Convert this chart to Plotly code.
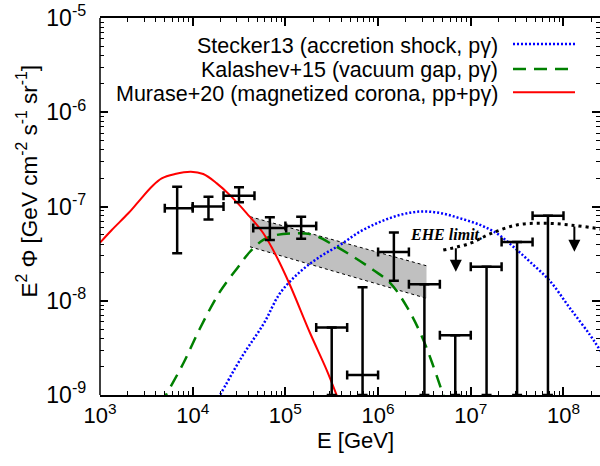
import numpy as np
import plotly.graph_objects as go

# ---------------- data ----------------
# Binned flux points (E in GeV, E^2 Phi in GeV cm^-2 s^-1 sr^-1)
pt_E = [6.8e3, 1.48e4, 3.16e4, 6.8e4, 1.48e5, 3.16e5, 6.8e5, 1.48e6, 3.16e6, 6.8e6, 1.48e7, 3.16e7, 6.8e7]
pt_Elo = [5.0e3, 1.0e4, 2.15e4, 4.5e4, 1.0e5, 2.15e5, 4.64e5, 1.0e6, 2.15e6, 4.64e6, 1.0e7, 2.15e7, 4.64e7]
pt_Ehi = [1.0e4, 2.15e4, 4.64e4, 1.02e5, 2.15e5, 4.64e5, 1.0e6, 2.15e6, 4.64e6, 1.0e7, 2.15e7, 4.64e7, 1.0e8]
pt_F = [9.6e-8, 1.0e-7, 1.30e-7, 5.9e-8, 6.2e-8, 5.2e-9, 1.63e-9, 3.3e-8, 1.5e-8, 4.3e-9, 2.3e-8, 4.2e-8, 8.0e-8]
pt_Fhi = [1.62e-7, 1.27e-7, 1.60e-7, 7.7e-8, 7.8e-8, 5.2e-9, 1.39e-8, 5.3e-8, 1.5e-8, 4.3e-9, 2.3e-8, 4.2e-8, 8.0e-8]
pt_Flo = [3.2e-8, 7.3e-8, 1.11e-7, 4.4e-8, 4.55e-8, 0, 0, 1.63e-8, 0, 0, 0, 0, 0]

# Power-law fit band
band_E = [4.15e4, 3.33e6]
band_up = [7.8e-8, 2.35e-8]
band_lo = [3.74e-8, 1.06e-8]

# Murase+20
red_E = [1.0e3, 1.34e3, 2.02e3, 2.59e3, 3.61e3, 4.63e3, 6.44e3, 9.55e3, 1.30e4, 1.82e4, 2.52e4,
         3.83e4, 5.78e4, 8.05e4, 1.12e5, 1.85e5, 2.79e5, 3.57e5, 3.9e5]
red_F = [4.13e-8, 5.64e-8, 8.47e-8, 1.12e-7, 1.62e-7, 1.99e-7, 2.21e-7, 2.34e-7, 2.21e-7, 1.76e-7, 1.32e-7,
         8.47e-8, 5.20e-8, 2.93e-8, 1.47e-8, 4.52e-9, 1.84e-9, 1.0e-9, 7.9e-10]

# Kalashev+15
grn_E = [4.54e3, 5.15e3, 7.93e3, 1.20e4, 1.97e4, 3.11e4, 4.15e4, 5.78e4, 8.05e4, 1.32e5,
         2.00e5, 3.29e5, 5.41e5, 8.87e5, 1.34e6, 2.04e6, 3.08e6, 5.05e6, 5.5e6]
grn_F = [7.9e-10, 1.0e-9, 2.17e-9, 5.11e-9, 1.25e-8, 2.30e-8, 3.31e-8, 4.42e-8, 4.99e-8, 5.20e-8,
         4.99e-8, 3.91e-8, 2.93e-8, 2.12e-8, 1.56e-8, 8.65e-9, 3.84e-9, 1.0e-9, 7.9e-10]

# Stecker13
blu_E = [1.71e4, 1.97e4, 3.40e4, 5.87e4, 8.75e4, 1.44e5, 2.36e5, 3.88e5, 6.38e5, 1.05e6, 1.72e6, 2.83e6,
         4.66e6, 7.64e6, 1.26e7, 1.90e7, 2.88e7, 4.35e7, 7.14e7, 1.17e8, 1.93e8, 2.48e8, 3.18e8]
blu_F = [7.9e-10, 1.0e-9, 2.55e-9, 5.77e-9, 1.20e-8, 2.03e-8, 2.93e-8, 3.91e-8, 5.41e-8, 6.86e-8, 8.13e-8, 8.85e-8,
         8.53e-8, 7.50e-8, 6.37e-8, 5.20e-8, 3.74e-8, 2.59e-8, 1.62e-8, 8.38e-9, 4.34e-9, 3.00e-9, 2.08e-9]

# EHE limit
ehe_E = [5.05e6, 9.79e6, 1.61e7, 3.13e7, 6.05e7, 1.17e8, 2.48e8, 3.16e8]
ehe_F = [3.45e-8, 4.06e-8, 5.11e-8, 6.37e-8, 6.64e-8, 6.37e-8, 5.77e-8, 5.5e-8]
ehe_arrow_E = [6.9e6, 1.31e8]
ehe_arrow_from = [3.74e-8, 6.37e-8]
ehe_arrow_to = [2.03e-8, 3.31e-8]
ehe_label_E = 2.1e6
ehe_label_F = 5.1e-8

legend_names = ["Stecker13 (accretion shock, p\u03b3)",
                "Kalashev+15 (vacuum gap, p\u03b3)",
                "Murase+20 (magnetized corona, pp+p\u03b3)"]

x_tick_exps = [3, 4, 5, 6, 7, 8]
y_tick_exps = [-9, -8, -7, -6, -5]

# ---------------- figure ----------------
XR = [3, 8.394]
YR = [-9, -5]
YMIN = 10 ** YR[0]

RED = "#ff0000"
GREEN = "#008000"
BLUE = "#0000ff"
FONT = "Liberation Sans, Arial, Helvetica, sans-serif"

fig = go.Figure()

# band
bx = [band_E[0], band_E[1], band_E[1], band_E[0], band_E[0]]
by = [band_up[0], band_up[1], band_lo[1], band_lo[0], band_up[0]]
fig.add_trace(go.Scatter(x=bx, y=by, mode="lines", fill="toself", fillcolor="#c0c0c0",
                         line=dict(width=0), hoverinfo="skip", showlegend=False))
for edge in (band_up, band_lo):
    fig.add_trace(go.Scatter(x=band_E, y=edge, mode="lines",
                             line=dict(color="black", width=1, dash="3px,3px"),
                             showlegend=False))

# model curves
fig.add_trace(go.Scatter(x=blu_E, y=blu_F, mode="lines", line=dict(color=BLUE, width=2.5, dash="2px,2px"),
                         line_shape="spline", showlegend=False))
fig.add_trace(go.Scatter(x=grn_E, y=grn_F, mode="lines", line=dict(color=GREEN, width=2.5, dash="13px,8px"),
                         line_shape="spline", showlegend=False))
fig.add_trace(go.Scatter(x=red_E, y=red_F, mode="lines", line=dict(color=RED, width=2),
                         line_shape="spline", showlegend=False))

# EHE limit
fig.add_trace(go.Scatter(x=ehe_E, y=ehe_F, mode="lines", line=dict(color="black", width=3, dash="3px,4px"),
                         line_shape="spline", showlegend=False))

# data points
E = np.array(pt_E); F = np.array(pt_F)
ex_p = np.array(pt_Ehi) - E
ex_m = E - np.array(pt_Elo)
lo = np.maximum(np.array(pt_Flo), YMIN)
ey_p = np.array(pt_Fhi) - F
ey_m = F - lo
fig.add_trace(go.Scatter(x=E, y=F, mode="markers", marker=dict(size=1, color="black"),
                         error_x=dict(type="data", symmetric=False, array=ex_p, arrayminus=ex_m,
                                      color="black", thickness=2.5, width=4.5),
                         error_y=dict(type="data", symmetric=False, array=ey_p, arrayminus=ey_m,
                                      color="black", thickness=2.5, width=5),
                         showlegend=False))

annotations = []
for xe, f0, f1 in zip(ehe_arrow_E, ehe_arrow_from, ehe_arrow_to):
    annotations.append(dict(x=np.log10(xe), y=np.log10(f1), ax=np.log10(xe), ay=np.log10(f0),
                            xref="x", yref="y", axref="x", ayref="y", text="", showarrow=True,
                            arrowhead=2, arrowsize=1.2, arrowwidth=2, arrowcolor="black"))
annotations.append(dict(x=np.log10(ehe_label_E), y=np.log10(ehe_label_F), xref="x", yref="y",
                        text="<b><i>EHE limit.</i></b>", showarrow=False, xanchor="left", yanchor="middle",
                        font=dict(family="Liberation Serif, Times New Roman, serif", size=16, color="black")))

# legend (text right-aligned, sample on the right)
leg_y = [0.927, 0.861, 0.799]
leg_styles = [dict(color=BLUE, width=2.5, dash="2px,2px"),
              dict(color=GREEN, width=2.5, dash="13px,8px"),
              dict(color=RED, width=2)]
shapes = []
for name, yy, st in zip(legend_names, leg_y, leg_styles):
    annotations.append(dict(x=0.8, y=yy, xref="paper", yref="paper", text=name, showarrow=False,
                            xanchor="right", yanchor="middle", font=dict(family=FONT, size=21.5, color="black")))
    shapes.append(dict(type="line", xref="paper", yref="paper", x0=0.826, x1=0.95, y0=yy + 0.004, y1=yy + 0.004,
                       line=st))

# left axis line
shapes.append(dict(type="line", xref="paper", yref="paper", x0=0, x1=0, y0=0, y1=1,
                   line=dict(color="black", width=1.5)))

# axis titles
annotations.append(dict(x=0.51, y=-0.12, xref="paper", yref="paper", text="E [GeV]", showarrow=False,
                        xanchor="center", yanchor="middle", font=dict(family=FONT, size=22, color="black")))
annotations.append(dict(x=-0.146, y=0.566, xref="paper", yref="paper", textangle=-90,
                        text="E<sup>2</sup> \u03a6 [GeV cm<sup>-2</sup> s<sup>-1</sup> sr<sup>-1</sup>]",
                        showarrow=False, xanchor="center", yanchor="middle",
                        font=dict(family=FONT, size=22.5, color="black")))

fig.update_layout(
    width=600, height=466,
    margin=dict(l=100, r=0, t=18, b=71),
    paper_bgcolor="white", plot_bgcolor="white",
    annotations=annotations, shapes=shapes,
    font=dict(family=FONT, size=22, color="black"),
)
fig.update_xaxes(type="log", range=XR, showgrid=False, zeroline=False,
                 showline=True, linecolor="black", linewidth=1.5, mirror="ticks",
                 ticks="inside", ticklen=8, tickwidth=1.5, tickcolor="black",
                 tickmode="array", tickvals=[10 ** k for k in x_tick_exps],
                 ticktext=["10<sup>%d</sup>" % k for k in x_tick_exps],
                 tickfont=dict(family=FONT, size=22, color="black"),
                 minor=dict(ticks="inside", ticklen=4, tickwidth=1, tickcolor="black", dtick="D1", showgrid=False))
fig.update_yaxes(type="log", range=YR, showgrid=False, zeroline=False,
                 showline=False, mirror="ticks",
                 ticks="inside", ticklen=8, tickwidth=1.5, tickcolor="black",
                 tickmode="array", tickvals=[10 ** k for k in y_tick_exps],
                 ticktext=["10<sup>%d</sup>\u00a0\u00a0" % k for k in y_tick_exps],
                 tickfont=dict(family=FONT, size=23, color="black"),
                 minor=dict(ticks="inside", ticklen=4, tickwidth=1, tickcolor="black", dtick="D1", showgrid=False))

fig.write_html("out.html")
